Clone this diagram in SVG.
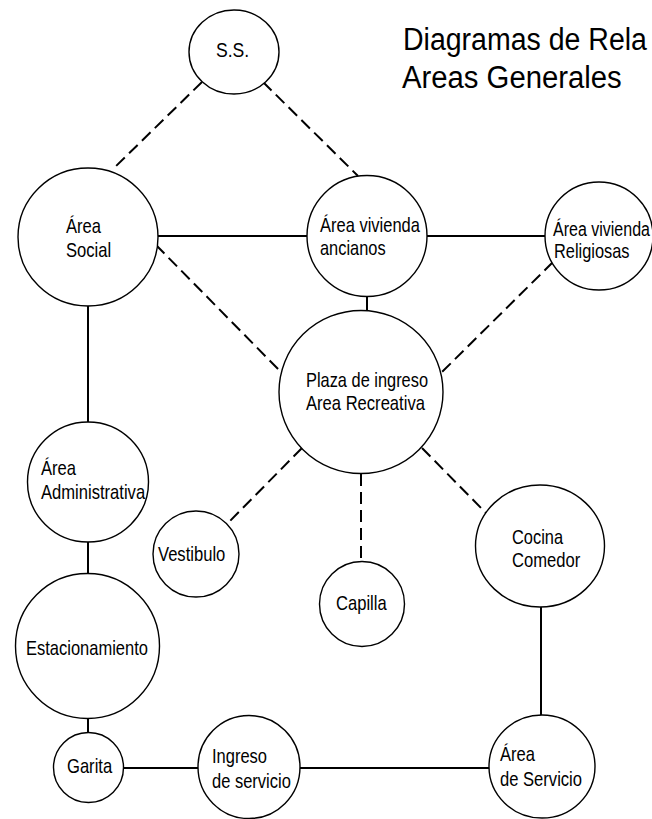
<svg xmlns="http://www.w3.org/2000/svg" width="652" height="819" viewBox="0 0 652 819">
<style>
.n ellipse{fill:#fff;stroke:#000;stroke-width:1.4}
.t{font-family:"Liberation Sans",Arial,sans-serif;font-size:20px;fill:#000}
.title{font-family:"Liberation Sans",Arial,sans-serif;font-size:31px;fill:#000}
.s{stroke:#000;stroke-width:2;fill:none}
.d{stroke:#000;stroke-width:2;fill:none;stroke-dasharray:12 6}
</style>
<rect width="652" height="819" fill="#fff"/>
<g id="connectors">
<line class="d" x1="202" y1="82" x2="112" y2="170"/>
<line class="d" x1="263" y1="82" x2="358" y2="176"/>
<line class="d" x1="156" y1="245" x2="281" y2="372"/>
<line class="d" x1="553" y1="262" x2="442" y2="372"/>
<line class="d" x1="302" y1="448" x2="227" y2="524"/>
<line class="d" x1="422" y1="448" x2="486" y2="513"/>
<line class="d" x1="361" y1="474" x2="361" y2="562"/>
<line class="s" x1="158" y1="236" x2="307" y2="236"/>
<line class="s" x1="427" y1="236" x2="545" y2="236"/>
<line class="s" x1="367" y1="296" x2="367" y2="311"/>
<line class="s" x1="88" y1="306" x2="88" y2="422"/>
<line class="s" x1="88" y1="542" x2="88" y2="574"/>
<line class="s" x1="88" y1="719" x2="88" y2="733"/>
<line class="s" x1="123" y1="768" x2="198" y2="768"/>
<line class="s" x1="300" y1="768" x2="489" y2="768"/>
<line class="s" x1="541" y1="607" x2="541" y2="715"/>
</g>
<g id="title">
<text class="title" transform="translate(403,50) scale(0.92,1)">Diagramas de Rela</text>
<text class="title" transform="translate(402,88) scale(0.945,1)">Areas Generales</text>
</g>
<g id="ss" class="n"><ellipse cx="234" cy="52" rx="45" ry="42"/>
<text class="t" transform="translate(216,57) scale(0.88,1)">S.S.</text></g>
<g id="area-social" class="n"><ellipse cx="88" cy="237" rx="70" ry="69"/>
<text class="t" transform="translate(66,233) scale(0.83,1)">Área</text>
<text class="t" transform="translate(66,257) scale(0.83,1)">Social</text></g>
<g id="vivienda-ancianos" class="n"><ellipse cx="367" cy="236" rx="60" ry="60.5"/>
<text class="t" transform="translate(320,232) scale(0.825,1)">Área vivienda</text>
<text class="t" transform="translate(320,255) scale(0.82,1)">ancianos</text></g>
<g id="vivienda-religiosas" class="n"><ellipse cx="599" cy="236" rx="54" ry="54"/>
<text class="t" transform="translate(553,236) scale(0.8,1)">Área vivienda</text>
<text class="t" transform="translate(554,258) scale(0.82,1)">Religiosas</text></g>
<g id="plaza" class="n"><ellipse cx="361" cy="392" rx="82" ry="81.5"/>
<text class="t" transform="translate(306,387) scale(0.82,1)">Plaza de ingreso</text>
<text class="t" transform="translate(306,410) scale(0.83,1)">Area Recreativa</text></g>
<g id="administrativa" class="n"><ellipse cx="88" cy="482" rx="60.5" ry="60"/>
<text class="t" transform="translate(41,475) scale(0.83,1)">Área</text>
<text class="t" transform="translate(41,499) scale(0.83,1)">Administrativa</text></g>
<g id="vestibulo" class="n"><ellipse cx="196" cy="554" rx="43" ry="43"/>
<text class="t" transform="translate(158,561) scale(0.83,1)">Vestibulo</text></g>
<g id="capilla" class="n"><ellipse cx="362" cy="604" rx="42.5" ry="42.5"/>
<text class="t" transform="translate(336,610) scale(0.83,1)">Capilla</text></g>
<g id="cocina" class="n"><ellipse cx="540" cy="546" rx="64.5" ry="61"/>
<text class="t" transform="translate(512,544) scale(0.82,1)">Cocina</text>
<text class="t" transform="translate(512,567) scale(0.83,1)">Comedor</text></g>
<g id="estacionamiento" class="n"><ellipse cx="87.5" cy="646" rx="72" ry="72.5"/>
<text class="t" transform="translate(26,655) scale(0.825,1)">Estacionamiento</text></g>
<g id="garita" class="n"><ellipse cx="88.5" cy="767.5" rx="35" ry="35"/>
<text class="t" transform="translate(67,773) scale(0.83,1)">Garita</text></g>
<g id="ingreso-servicio" class="n"><ellipse cx="249" cy="767" rx="51" ry="51.5"/>
<text class="t" transform="translate(212,763) scale(0.825,1)">Ingreso</text>
<text class="t" transform="translate(212,788) scale(0.825,1)">de servicio</text></g>
<g id="area-servicio" class="n"><ellipse cx="542" cy="766.5" rx="53" ry="51.5"/>
<text class="t" transform="translate(500,761) scale(0.83,1)">Área</text>
<text class="t" transform="translate(500,786) scale(0.83,1)">de Servicio</text></g>
</svg>
